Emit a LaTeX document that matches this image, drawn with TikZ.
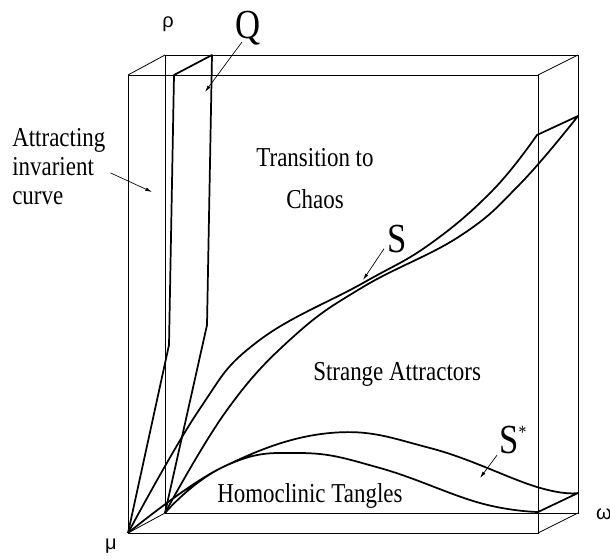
\documentclass[tikz,border=0pt]{standalone}
\usepackage{fontspec}
\setmainfont{Liberation Serif}[FakeStretch=0.84]
\newfontfamily\greekfont{Liberation Sans}
\usetikzlibrary{arrows.meta}

\begin{document}
\begin{tikzpicture}[
    x=0.75pt, y=-0.75pt,
    edge/.style={line width=0.6pt},
    band/.style={line width=1.3pt, line join=round},
    arr/.style={-{Latex[length=5pt, width=2.6pt]}, line width=0.5pt},
    lbl/.style={font=\fontsize{20.5}{21.75}\selectfont, inner sep=0pt},
    big/.style={font=\fontsize{31}{31}\selectfont, inner sep=0pt},
    sym/.style={font=\greekfont\fontsize{15}{15}\selectfont, inner sep=0pt}
]
    \useasboundingbox (0,0) rectangle (610,558);

    % Box corners
    \coordinate (mu)  at (128,533);
    \coordinate (fr)  at (538,533);
    \coordinate (ft)  at (128,75);
    \coordinate (ftr) at (538,75);
    \coordinate (bl)  at (165,513);
    \coordinate (br)  at (578,513);
    \coordinate (bt)  at (165,55);
    \coordinate (btr) at (578,55);

    % Box
    \draw[edge] (mu) rectangle (ftr);
    \draw[edge] (bl) rectangle (btr);
    \draw[edge] (mu) -- (bl) (fr) -- (br) (ft) -- (bt) (ftr) -- (btr);

    % Q band
    \coordinate (qf) at (174,75);
    \coordinate (qb) at (212,55);
    \draw[band] (mu) -- (169,345) -- (qf) -- (qb) -- (207,325) -- (bl);

    % S band
    \coordinate (sf) at (537,135);
    \coordinate (sb) at (578,116);
    \draw[band] plot[smooth, tension=0.7] coordinates {(mu) (199,410) (257,342)
        (363,283) (430,244) (493,190) (sf)}
        -- plot[smooth, tension=0.7] coordinates {(sb) (520,184) (460,236)
        (363,287) (293,337) (227,410) (bl)};

    % S* band
    \coordinate (tf) at (538,512);
    \coordinate (tb) at (578,493);
    \draw[band] plot[smooth, tension=0.7] coordinates {(mu) (223,467) (300,453)
        (380,468) (480,503) (tf)}
        -- plot[smooth, tension=0.7] coordinates {(tb) (537,487) (430,448)
        (330,433) (223,467) (bl)};

    % Labels
    \node[sym] (rho) at (168,24) {ρ};
    \node[sym] (muL) at (111,546) {μ};
    \node[sym] (omega) at (604,514) {ω};
    \node[big, anchor=base] (Q) at (248,38) {Q};
    \node[big, anchor=base] (S) at (397,252) {S};
    \node[big, anchor=base west] (sstar) at (499,453) {S\raisebox{11pt}{\fontsize{14}{14}\selectfont *}};
    \node[lbl, anchor=north west, align=left] (attr) at (12,128) {Attracting\\invarient\\curve};
    \node[lbl, anchor=north, align=center, font=\fontsize{20.5}{31.5}\selectfont] (chaos) at (315,148) {Transition to\\Chaos};
    \node[lbl, anchor=base west] (strange) at (313,380) {Strange Attractors};
    \node[lbl, anchor=base west] (homo) at (217,502) {Homoclinic Tangles};

    % Pointers
    \coordinate (attrTip) at (152,192);
    \coordinate (qTip) at (205,92);
    \coordinate (sTip) at (363,280);
    \coordinate (tTip) at (480,478);
    \draw[arr] ([shift={(5,6.5)}]attr.east) -- (attrTip);
    \draw[arr] ([shift={(-6,-3)}]Q.south) -- (qTip);
    \draw[arr] ([shift={(-3,-4)}]S.south west) -- (sTip);
    \draw[arr] ([shift={(-2,1.5)}]sstar.south west) -- (tTip);
\end{tikzpicture}
\end{document}
